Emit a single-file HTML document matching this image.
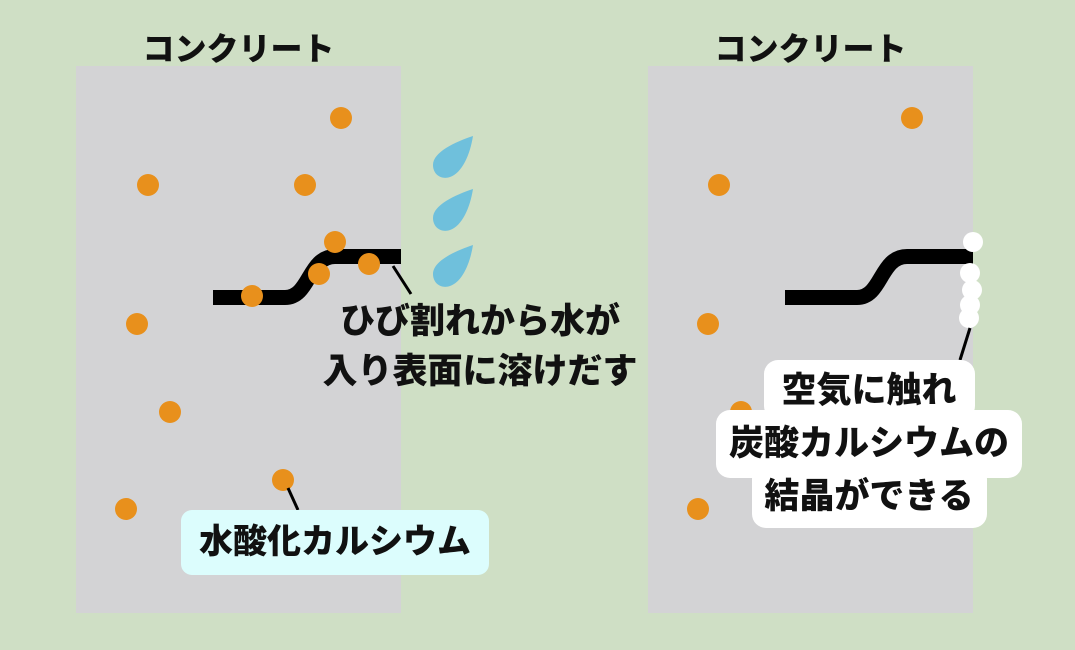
<!DOCTYPE html>
<html><head><meta charset="utf-8"><style>
html,body{margin:0;padding:0}
body{width:1075px;height:650px;background:#cfdfc5;position:relative;overflow:hidden;font-family:"Liberation Sans","Noto Sans CJK JP",sans-serif;font-weight:bold}
.t{position:absolute;white-space:nowrap;color:#111;font-weight:900}
</style></head><body>
<svg width="1075" height="650" style="position:absolute;left:0;top:0">
<rect x="76" y="66" width="325" height="547" fill="#d3d3d5"/>
<rect x="648" y="66" width="325" height="547" fill="#d3d3d5"/>
<g fill="none" stroke="#000" stroke-width="15">
<path d="M213,297.5 H285 C310,297.5 308,256.5 335,256.5 H401"/>
<path d="M785,297.5 H857 C882,297.5 880,256.5 907,256.5 H973"/>
</g>
<g fill="#e8901c">
<circle cx="341" cy="118" r="11"/><circle cx="148" cy="185" r="11"/><circle cx="305" cy="185" r="11"/>
<circle cx="335" cy="242" r="11"/><circle cx="319" cy="274" r="11"/><circle cx="369" cy="264" r="11"/>
<circle cx="252" cy="296" r="11"/><circle cx="137" cy="324" r="11"/><circle cx="170" cy="412" r="11"/>
<circle cx="283" cy="480" r="11"/><circle cx="126" cy="509" r="11"/>
<circle cx="912" cy="118" r="11"/><circle cx="719" cy="185" r="11"/><circle cx="708" cy="324" r="11"/>
<circle cx="741" cy="412" r="11"/><circle cx="698" cy="509" r="11"/>
</g>
<g fill="#6fc0dc">
<path d="M473,136 C455,142 433,152 433,165 C433,175 442,180 450,177 C462,173 470,155 473,136Z"/>
<path d="M473,189 C455,195 433,205 433,218 C433,228 442,233 450,230 C462,226 470,208 473,189Z"/>
<path d="M473,245 C455,251 433,261 433,274 C433,284 442,289 450,286 C462,282 470,264 473,245Z"/>
</g>
<g fill="#fff">
<circle cx="973" cy="242" r="10"/><circle cx="970" cy="273" r="10"/><circle cx="972" cy="290" r="10"/>
<circle cx="970" cy="305" r="10"/><circle cx="969" cy="318" r="10"/>
</g>
<g stroke="#000" stroke-width="3">
<line x1="393" y1="266" x2="411" y2="294"/>
<line x1="288" y1="488" x2="298" y2="510"/>
<line x1="970" y1="328" x2="960" y2="360"/>
</g>
<rect x="181" y="510" width="308" height="65" rx="11" fill="#dcfdfd"/>
<g fill="#fff">
<rect x="764" y="360" width="211" height="60" rx="14"/>
<rect x="716" y="410" width="306" height="68" rx="14"/>
<rect x="752" y="465" width="235" height="63" rx="14"/>
</g>
</svg>
<div class="t" style="left:76px;width:325px;text-align:center;top:24px;font-size:32px">コンクリート</div>
<div class="t" style="left:648px;width:325px;text-align:center;top:24px;font-size:32px">コンクリート</div>
<div class="t" style="left:300px;width:360px;text-align:center;top:297px;font-size:35px;line-height:50px">ひび割れから水が<br>入り表面に溶けだす</div>
<div class="t" style="left:181px;width:308px;text-align:center;top:521px;font-size:34px;line-height:42px">水酸化カルシウム</div>
<div class="t" style="left:716px;width:306px;text-align:center;top:364px;font-size:35px;line-height:53px">空気に触れ<br>炭酸カルシウムの<br>結晶ができる</div>
</body></html>
